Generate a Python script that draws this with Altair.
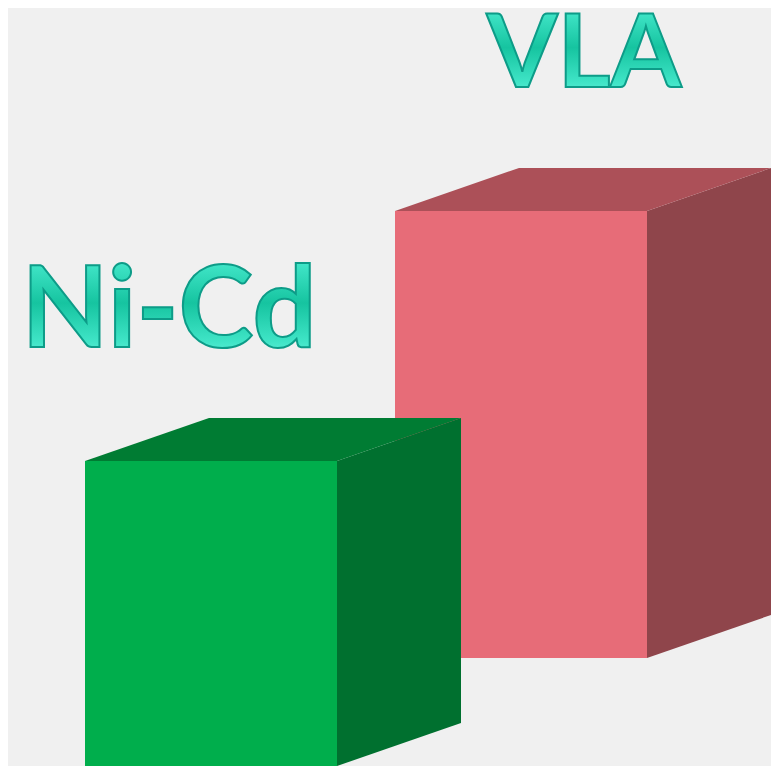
import altair as alt
import pandas as pd

# Boxes: front-face edges and the depth offset of the top/side faces
names = ["VLA", "Ni-Cd"]
left = [395, 85]
right = [647, 337]
top = [211, 461]
bottom = [658, 766]
depth_x = [124, 124]
depth_y = [43, 43]
front_colors = ["#e76c78", "#00ae4c"]
top_colors = ["#ac5058", "#007c33"]
side_colors = ["#8f454b", "#00702f"]

label_text = ["VLA", "Ni-Cd"]
label_x = [584, 169]
label_y = [87, 347]
label_size = [102, 113]

xs = alt.Scale(domain=[8, 771], range=[0, 763], nice=False, zero=False)
ys = alt.Scale(domain=[8, 766], range=[0, 758], nice=False, zero=False)
X = lambda f: alt.X(f, type="quantitative", scale=xs, axis=None)
Y = lambda f: alt.Y(f, type="quantitative", scale=ys, axis=None)

layers = []
for i in range(2):
    front = pd.DataFrame({"x": [left[i]], "x2": [right[i]], "y": [top[i]], "y2": [bottom[i]]})
    topf = pd.DataFrame({
        "y": [top[i] - depth_y[i], top[i]],
        "x": [left[i] + depth_x[i], left[i]],
        "x2": [right[i] + depth_x[i], right[i]],
    })
    side = pd.DataFrame({
        "x": [right[i], right[i] + depth_x[i]],
        "y": [top[i], top[i] - depth_y[i]],
        "y2": [bottom[i], bottom[i] - depth_y[i]],
    })
    layers.append(alt.Chart(side).mark_area(color=side_colors[i], orient="vertical", clip=True).encode(
        x=X("x"), y=Y("y"), y2="y2"))
    layers.append(alt.Chart(topf).mark_area(color=top_colors[i], orient="horizontal", clip=True).encode(
        y=Y("y"), x=X("x"), x2="x2"))
    layers.append(alt.Chart(front).mark_rect(color=front_colors[i], clip=True).encode(
        x=X("x"), x2="x2", y=Y("y"), y2="y2"))

gloss = alt.Gradient(
    gradient="linear", x1=0, y1=0, x2=0, y2=1,
    stops=[
        alt.GradientStop(offset=0.0, color="#7ef8e6"),
        alt.GradientStop(offset=0.22, color="#3fe4c6"),
        alt.GradientStop(offset=0.5, color="#16c4a0"),
        alt.GradientStop(offset=0.78, color="#3fe4c6"),
        alt.GradientStop(offset=1.0, color="#7ef8e6"),
    ],
)
labels = pd.DataFrame({"label": label_text, "x": label_x, "y": label_y, "size": label_size})
layers.append(alt.Chart(labels).mark_text(
    font="Lato", fontWeight=700, align="center", baseline="alphabetic",
    fill=gloss, stroke="#0d9c88", strokeWidth=2,
).encode(x=X("x"), y=Y("y"), text="label:N", size=alt.Size("size:Q", scale=None, legend=None)))

chart = alt.layer(*layers).properties(
    width=763, height=758, padding=0, background="#f0f0f0",
    autosize=alt.AutoSizeParams(type="none"),
).configure_view(stroke=None)

chart.save("out.html", embed_options={"renderer": "svg", "actions": False})
